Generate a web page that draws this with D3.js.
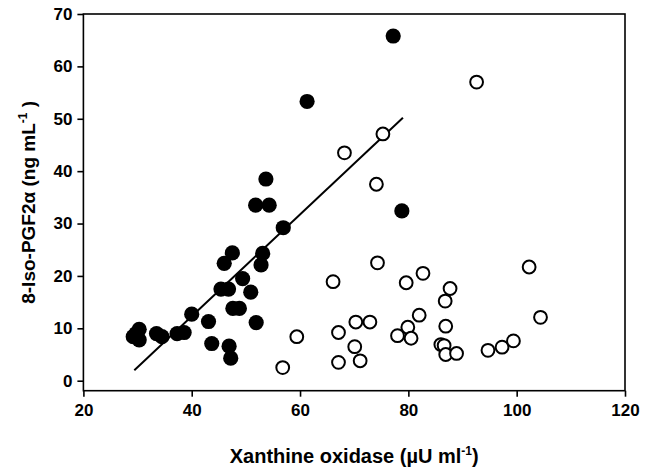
<!DOCTYPE html>
<html><head><meta charset="utf-8">
<script src="https://cdn.jsdelivr.net/npm/d3@7"></script>
<style>body{margin:0;background:#fff}text{font-family:"Liberation Sans",Arial,sans-serif;font-weight:bold}</style>
</head><body><svg id="c" width="645" height="472"></svg>
<script>
const filledX = [29.2,29.7,30.3,30.3,33.5,34.5,37.3,38.6,40.0,43.1,43.7,46.9,47.2,45.4,46.8,47.6,48.8,50.9,51.9,49.4,46.0,47.5,52.8,53.1,56.9,51.8,54.3,53.7,61.3,77.2,78.8];
const filledY = [8.4,9.0,9.8,7.8,9.0,8.4,9.0,9.2,12.7,11.3,7.1,6.6,4.3,17.5,17.5,13.8,13.8,16.9,11.1,19.5,22.4,24.4,22.1,24.3,29.2,33.5,33.5,38.5,53.3,65.8,32.4];
const openX = [56.8,59.4,66.1,67.1,67.1,70.3,70.1,71.1,72.9,74.3,79.6,82.7,78.0,79.9,80.5,82.0,87.7,86.8,86.9,86.0,86.6,86.9,88.9,94.7,97.3,99.4,102.3,104.4,92.6,75.3,68.2,74.1];
const openY = [2.5,8.4,18.9,9.2,3.5,11.2,6.5,3.8,11.2,22.5,18.7,20.5,8.6,10.2,8.1,12.5,17.6,15.2,10.4,6.9,6.7,5.0,5.2,5.8,6.4,7.6,21.7,12.1,57.0,47.1,43.5,37.5];
const fitX = [29.4,79.0];
const fitY = [2.0,50.2];
const xTicks = [20,40,60,80,100,120];
const yTicks = [0,10,20,30,40,50,60,70];

const svg = d3.select("#c");
const L=83.4,R=625,T=14,B=390.7;
const x = d3.scaleLinear().domain([20,120]).range([L,R]);
const y = d3.scaleLinear().domain([0,70]).range([380.7,T]);

svg.append("rect").attr("x",L).attr("y",T).attr("width",R-L).attr("height",B-T)
  .attr("fill","none").attr("stroke","#000").attr("stroke-width",1.6);

const xa = svg.append("g").attr("transform",`translate(0,${B})`)
  .call(d3.axisBottom(x).tickValues(xTicks).tickSize(6).tickPadding(7).tickFormat(d3.format("d")));
const ya = svg.append("g").attr("transform",`translate(${L},0)`)
  .call(d3.axisLeft(y).tickValues(yTicks).tickSize(6).tickPadding(5).tickFormat(d3.format("d")));
[xa,ya].forEach(g=>{
  g.select(".domain").remove();
  g.selectAll("line").attr("stroke","#000").attr("stroke-width",1.6);
  g.selectAll("text").attr("font-size",17).attr("font-family","Liberation Sans, Arial, sans-serif").attr("font-weight","bold").attr("fill","#000");
});

svg.append("line").attr("x1",x(fitX[0])).attr("y1",y(fitY[0])).attr("x2",x(fitX[1])).attr("y2",y(fitY[1]))
  .attr("stroke","#000").attr("stroke-width",2);

svg.append("g").selectAll("circle").data(openX.map((v,i)=>[v,openY[i]])).join("circle")
  .attr("cx",d=>x(d[0])).attr("cy",d=>y(d[1])).attr("r",6.4)
  .attr("fill","#fff").attr("stroke","#000").attr("stroke-width",2);
svg.append("g").selectAll("circle").data(filledX.map((v,i)=>[v,filledY[i]])).join("circle")
  .attr("cx",d=>x(d[0])).attr("cy",d=>y(d[1])).attr("r",7.6).attr("fill","#000");

const xt = svg.append("text").attr("x",(L+R)/2).attr("y",463).attr("text-anchor","middle").attr("font-size",20);
xt.append("tspan").text("Xanthine oxidase (µU ml");
xt.append("tspan").attr("font-size",12).attr("dy",-8).text("-1");
xt.append("tspan").attr("dy",8).text(")");

const yt = svg.append("text").attr("transform",`translate(35,${(T+B)/2}) rotate(-90)`).attr("text-anchor","middle").attr("font-size",19);
yt.append("tspan").text("8-Iso-PGF2α (ng mL");
yt.append("tspan").attr("font-size",12).attr("dy",-8).text("-1");
yt.append("tspan").attr("dy",8).text(" )");
</script></body></html>
